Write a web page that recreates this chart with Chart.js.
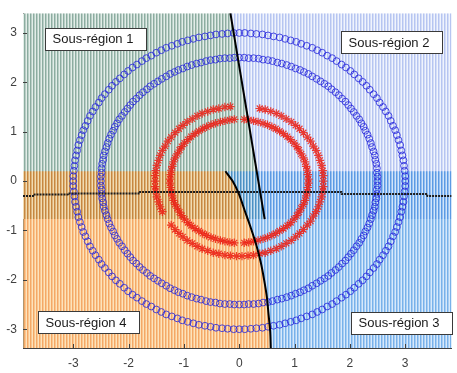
<!DOCTYPE html>
<html>
<head>
<meta charset="utf-8">
<script src="https://cdn.jsdelivr.net/npm/chart.js@4.4.1/dist/chart.umd.min.js"></script>
<style>
  html, body { margin: 0; padding: 0; background: #fff; }
  canvas { display: block; }
</style>
</head>
<body>
<canvas id="chart" width="457" height="373"></canvas>
<script>
// ---- axis limits and ticks ----
const xLimits = [-3.91, 3.84];
const yLimits = [-3.38, 3.40];
const xTickValues = [-3, -2, -1, 0, 1, 2, 3];
const yTickValues = [-3, -2, -1, 0, 1, 2, 3];

// ---- class "o": two rings of points (radius 3 and 2.5) ----
const blueOuterX = [3.00,3.00,2.99,2.98,2.97,2.95,2.93,2.91,2.88,2.85,2.82,2.78,2.74,2.70,2.65,2.60,2.54,2.49,2.43,2.36,2.30,2.23,2.16,2.08,2.01,1.93,1.85,1.76,1.68,1.59,1.50,1.41,1.32,1.22,1.12,1.03,0.93,0.83,0.73,0.62,0.52,0.42,0.31,0.21,0.10,
  0.00,-0.10,-0.21,-0.31,-0.42,-0.52,-0.62,-0.73,-0.83,-0.93,-1.03,-1.12,-1.22,-1.32,-1.41,-1.50,-1.59,-1.68,-1.76,-1.85,-1.93,-2.01,-2.08,-2.16,-2.23,-2.30,-2.36,-2.43,-2.49,-2.54,-2.60,-2.65,-2.70,-2.74,-2.78,-2.82,-2.85,-2.88,-2.91,-2.93,-2.95,-2.97,-2.98,-2.99,-3.00,
  -3.00,-3.00,-2.99,-2.98,-2.97,-2.95,-2.93,-2.91,-2.88,-2.85,-2.82,-2.78,-2.74,-2.70,-2.65,-2.60,-2.54,-2.49,-2.43,-2.36,-2.30,-2.23,-2.16,-2.08,-2.01,-1.93,-1.85,-1.76,-1.68,-1.59,-1.50,-1.41,-1.32,-1.22,-1.12,-1.03,-0.93,-0.83,-0.73,-0.62,-0.52,-0.42,-0.31,-0.21,-0.10,
  0.00,0.10,0.21,0.31,0.42,0.52,0.62,0.73,0.83,0.93,1.03,1.12,1.22,1.32,1.41,1.50,1.59,1.68,1.76,1.85,1.93,2.01,2.08,2.16,2.23,2.30,2.36,2.43,2.49,2.54,2.60,2.65,2.70,2.74,2.78,2.82,2.85,2.88,2.91,2.93,2.95,2.97,2.98,2.99,3.00];
const blueOuterY = [0.00,0.10,0.21,0.31,0.42,0.52,0.62,0.73,0.83,0.93,1.03,1.12,1.22,1.32,1.41,1.50,1.59,1.68,1.76,1.85,1.93,2.01,2.08,2.16,2.23,2.30,2.36,2.43,2.49,2.54,2.60,2.65,2.70,2.74,2.78,2.82,2.85,2.88,2.91,2.93,2.95,2.97,2.98,2.99,3.00,
  3.00,3.00,2.99,2.98,2.97,2.95,2.93,2.91,2.88,2.85,2.82,2.78,2.74,2.70,2.65,2.60,2.54,2.49,2.43,2.36,2.30,2.23,2.16,2.08,2.01,1.93,1.85,1.76,1.68,1.59,1.50,1.41,1.32,1.22,1.12,1.03,0.93,0.83,0.73,0.62,0.52,0.42,0.31,0.21,0.10,
  0.00,-0.10,-0.21,-0.31,-0.42,-0.52,-0.62,-0.73,-0.83,-0.93,-1.03,-1.12,-1.22,-1.32,-1.41,-1.50,-1.59,-1.68,-1.76,-1.85,-1.93,-2.01,-2.08,-2.16,-2.23,-2.30,-2.36,-2.43,-2.49,-2.54,-2.60,-2.65,-2.70,-2.74,-2.78,-2.82,-2.85,-2.88,-2.91,-2.93,-2.95,-2.97,-2.98,-2.99,-3.00,
  -3.00,-3.00,-2.99,-2.98,-2.97,-2.95,-2.93,-2.91,-2.88,-2.85,-2.82,-2.78,-2.74,-2.70,-2.65,-2.60,-2.54,-2.49,-2.43,-2.36,-2.30,-2.23,-2.16,-2.08,-2.01,-1.93,-1.85,-1.76,-1.68,-1.59,-1.50,-1.41,-1.32,-1.22,-1.12,-1.03,-0.93,-0.83,-0.73,-0.62,-0.52,-0.42,-0.31,-0.21,-0.10];
const blueInnerX = [2.50,2.50,2.49,2.49,2.48,2.46,2.45,2.43,2.40,2.38,2.35,2.32,2.28,2.25,2.21,2.17,2.12,2.07,2.02,1.97,1.92,1.86,1.80,1.74,1.67,1.61,1.54,1.47,1.40,1.32,1.25,1.17,1.10,1.02,0.94,0.86,0.77,0.69,0.60,0.52,0.43,0.35,0.26,0.17,0.09,
  0.00,-0.09,-0.17,-0.26,-0.35,-0.43,-0.52,-0.60,-0.69,-0.77,-0.86,-0.94,-1.02,-1.10,-1.17,-1.25,-1.32,-1.40,-1.47,-1.54,-1.61,-1.67,-1.74,-1.80,-1.86,-1.92,-1.97,-2.02,-2.07,-2.12,-2.17,-2.21,-2.25,-2.28,-2.32,-2.35,-2.38,-2.40,-2.43,-2.45,-2.46,-2.48,-2.49,-2.49,-2.50,
  -2.50,-2.50,-2.49,-2.49,-2.48,-2.46,-2.45,-2.43,-2.40,-2.38,-2.35,-2.32,-2.28,-2.25,-2.21,-2.17,-2.12,-2.07,-2.02,-1.97,-1.92,-1.86,-1.80,-1.74,-1.67,-1.61,-1.54,-1.47,-1.40,-1.32,-1.25,-1.17,-1.10,-1.02,-0.94,-0.86,-0.77,-0.69,-0.60,-0.52,-0.43,-0.35,-0.26,-0.17,-0.09,
  0.00,0.09,0.17,0.26,0.35,0.43,0.52,0.60,0.69,0.77,0.86,0.94,1.02,1.10,1.17,1.25,1.32,1.40,1.47,1.54,1.61,1.67,1.74,1.80,1.86,1.92,1.97,2.02,2.07,2.12,2.17,2.21,2.25,2.28,2.32,2.35,2.38,2.40,2.43,2.45,2.46,2.48,2.49,2.49,2.50];
const blueInnerY = [0.00,0.09,0.17,0.26,0.35,0.43,0.52,0.60,0.69,0.77,0.86,0.94,1.02,1.10,1.17,1.25,1.32,1.40,1.47,1.54,1.61,1.67,1.74,1.80,1.86,1.92,1.97,2.02,2.07,2.12,2.17,2.21,2.25,2.28,2.32,2.35,2.38,2.40,2.43,2.45,2.46,2.48,2.49,2.49,2.50,
  2.50,2.50,2.49,2.49,2.48,2.46,2.45,2.43,2.40,2.38,2.35,2.32,2.28,2.25,2.21,2.17,2.12,2.07,2.02,1.97,1.92,1.86,1.80,1.74,1.67,1.61,1.54,1.47,1.40,1.32,1.25,1.17,1.10,1.02,0.94,0.86,0.77,0.69,0.60,0.52,0.43,0.35,0.26,0.17,0.09,
  0.00,-0.09,-0.17,-0.26,-0.35,-0.43,-0.52,-0.60,-0.69,-0.77,-0.86,-0.94,-1.02,-1.10,-1.17,-1.25,-1.32,-1.40,-1.47,-1.54,-1.61,-1.67,-1.74,-1.80,-1.86,-1.92,-1.97,-2.02,-2.07,-2.12,-2.17,-2.21,-2.25,-2.28,-2.32,-2.35,-2.38,-2.40,-2.43,-2.45,-2.46,-2.48,-2.49,-2.49,-2.50,
  -2.50,-2.50,-2.49,-2.49,-2.48,-2.46,-2.45,-2.43,-2.40,-2.38,-2.35,-2.32,-2.28,-2.25,-2.21,-2.17,-2.12,-2.07,-2.02,-1.97,-1.92,-1.86,-1.80,-1.74,-1.67,-1.61,-1.54,-1.47,-1.40,-1.32,-1.25,-1.17,-1.10,-1.02,-0.94,-0.86,-0.77,-0.69,-0.60,-0.52,-0.43,-0.35,-0.26,-0.17,-0.09];

// ---- class "*": two inner rings (radius about 1.52 and 1.25) ----
const redOuterX = [1.52,1.52,1.51,1.49,1.46,1.43,1.39,1.34,1.29,1.23,1.16,1.09,1.02,0.94,0.85,0.76,0.67,0.57,0.47,0.37,
  -0.16,-0.26,-0.37,-0.47,-0.57,-0.67,-0.76,-0.85,-0.94,-1.02,-1.09,-1.16,-1.23,-1.29,-1.34,-1.39,-1.43,-1.46,-1.49,-1.51,-1.52,
  -1.52,
  -1.52,-1.51,-1.49,-1.46,-1.43,-1.39,-1.23,-1.16,-1.09,-1.02,-0.94,-0.85,-0.76,-0.67,-0.57,-0.47,-0.37,-0.26,-0.16,-0.05,
  0.05,0.16,0.26,0.37,0.47,0.57,0.67,0.76,0.85,0.94,1.02,1.09,1.16,1.23,1.29,1.34,1.39,1.43,1.46,1.49,1.51,1.52];
const redOuterY = [0.00,0.11,0.21,0.32,0.42,0.52,0.62,0.71,0.81,0.89,0.98,1.06,1.13,1.20,1.26,1.32,1.37,1.41,1.45,1.47,
  1.51,1.50,1.47,1.45,1.41,1.37,1.32,1.26,1.20,1.13,1.06,0.98,0.89,0.81,0.71,0.62,0.52,0.42,0.32,0.21,0.11,
  0.00,
  -0.11,-0.21,-0.32,-0.42,-0.52,-0.62,-0.89,-0.98,-1.06,-1.13,-1.20,-1.26,-1.32,-1.37,-1.41,-1.45,-1.47,-1.50,-1.51,-1.52,
  -1.52,-1.51,-1.50,-1.47,-1.45,-1.41,-1.37,-1.32,-1.26,-1.20,-1.13,-1.06,-0.98,-0.89,-0.81,-0.71,-0.62,-0.52,-0.42,-0.32,-0.21,-0.11];
const redInnerX = [1.25,1.24,1.23,1.21,1.19,1.16,1.12,1.08,1.04,0.99,0.93,0.87,0.80,0.73,0.66,0.59,0.51,0.43,0.34,0.26,0.17,0.09,
  -0.09,-0.17,-0.26,-0.34,-0.43,-0.51,-0.59,-0.66,-0.73,-0.80,-0.87,-0.93,-0.99,-1.04,-1.08,-1.12,-1.16,-1.19,-1.21,-1.23,-1.24,-1.25,
  -1.25,-1.24,-1.23,-1.21,-1.19,-1.16,-1.12,-1.08,-1.04,-0.99,-0.93,-0.87,-0.80,-0.73,-0.66,-0.59,-0.51,-0.43,-0.34,-0.26,-0.17,-0.09,
  0.09,0.17,0.26,0.34,0.43,0.51,0.59,0.66,0.73,0.80,0.87,0.93,0.99,1.04,1.08,1.12,1.16,1.19,1.21,1.23,1.24,1.25];
const redInnerY = [0.04,0.13,0.22,0.30,0.39,0.47,0.55,0.63,0.70,0.77,0.84,0.90,0.96,1.01,1.06,1.10,1.14,1.17,1.20,1.22,1.24,1.25,
  1.25,1.24,1.22,1.20,1.17,1.14,1.10,1.06,1.01,0.96,0.90,0.84,0.77,0.70,0.63,0.55,0.47,0.39,0.30,0.22,0.13,0.04,
  -0.04,-0.13,-0.22,-0.30,-0.39,-0.47,-0.55,-0.63,-0.70,-0.77,-0.84,-0.90,-0.96,-1.01,-1.06,-1.10,-1.14,-1.17,-1.20,-1.22,-1.24,-1.25,
  -1.25,-1.24,-1.22,-1.20,-1.17,-1.14,-1.10,-1.06,-1.01,-0.96,-0.90,-0.84,-0.77,-0.70,-0.63,-0.55,-0.47,-0.39,-0.30,-0.22,-0.13,-0.04];

// ---- decision boundaries ----
const splitLineX = [-0.16, 0.46];
const splitLineY = [3.40, -0.77];
const curveX = [-0.25, -0.12, -0.01, 0.10, 0.21, 0.31, 0.39, 0.45, 0.50, 0.53, 0.56, 0.57];
const curveY = [0.20, 0.00, -0.25, -0.60, -0.95, -1.30, -1.65, -2.00, -2.35, -2.70, -3.05, -3.38];
const stepX = [-3.91, -3.70, -3.70, -3.10, -3.10, -1.80, -1.80, 1.85, 1.85, 3.40, 3.40, 3.84];
const stepY = [-0.30, -0.30, -0.27, -0.27, -0.25, -0.25, -0.22, -0.22, -0.26, -0.26, -0.30, -0.30];
const upperBandBottom = -0.77;   // lower edge of the two upper sub-regions
const lowerBandTop = 0.20;       // upper edge of the two lower sub-regions

// ---- sub-region labels ----
const labelText = ['Sous-région 1', 'Sous-région 2', 'Sous-région 3', 'Sous-région 4'];
const labelX = [-3.52, 1.84, 2.02, -3.64];
const labelY = [2.88, 2.81, -2.87, -2.86];

const FONT = '"Liberation Sans", Arial, Helvetica, sans-serif';
Chart.defaults.font.family = FONT;

const zip = (xs, ys) => xs.map((v, i) => ({ x: v, y: ys[i] }));
const pt = (x, y) => ({ x, y });

const canvas = document.getElementById('chart');
const ctx = canvas.getContext('2d');

// vertical hatch made of three one-pixel columns
function hatch(dark, mid, light) {
  const tile = document.createElement('canvas');
  tile.width = 3; tile.height = 1;
  const g = tile.getContext('2d');
  g.fillStyle = dark; g.fillRect(0, 0, 1, 1);
  g.fillStyle = mid; g.fillRect(1, 0, 1, 1);
  g.fillStyle = light; g.fillRect(2, 0, 1, 1);
  return ctx.createPattern(tile, 'repeat');
}

const [xMin, xMax] = xLimits;
const [yMin, yMax] = yLimits;

const region1 = [pt(xMin, yMax), pt(splitLineX[0], splitLineY[0]), pt(splitLineX[1], splitLineY[1]), pt(xMin, upperBandBottom)];
const region2 = [pt(splitLineX[0], splitLineY[0]), pt(xMax, yMax), pt(xMax, upperBandBottom), pt(splitLineX[1], splitLineY[1])];
const curvePts = zip(curveX, curveY);
const region4 = [pt(xMin, lowerBandTop), ...curvePts, pt(xMin, yMin)];
const region3 = [...curvePts, pt(xMax, yMin), pt(xMax, lowerBandTop)];

function regionSet(points, pattern, order) {
  return {
    data: points, showLine: true, fill: 'shape', tension: 0,
    backgroundColor: pattern, borderColor: 'rgba(0,0,0,0)', borderWidth: 1,
    pointRadius: 0, order
  };
}

const overlay = {
  id: 'overlay',
  afterDatasetsDraw(chart) {
    const { ctx: c, chartArea: a, scales: { x, y } } = chart;
    c.save();
    // inward tick marks
    c.strokeStyle = '#404040';
    c.lineWidth = 1;
    c.beginPath();
    xTickValues.forEach(v => {
      const px = Math.round(x.getPixelForValue(v)) + 0.5;
      c.moveTo(px, a.bottom); c.lineTo(px, a.bottom - 4);
    });
    yTickValues.forEach(v => {
      const py = Math.round(y.getPixelForValue(v)) + 0.5;
      c.moveTo(a.left, py); c.lineTo(a.left + 4, py);
    });
    c.stroke();
    // boxed region labels
    c.font = '13px ' + FONT;
    c.textBaseline = 'middle';
    labelText.forEach((t, i) => {
      const left = Math.round(x.getPixelForValue(labelX[i])) + 0.5;
      const cy = y.getPixelForValue(labelY[i]);
      const w = Math.round(c.measureText(t).width + 20);
      const h = 22;
      const top = Math.round(cy - h / 2) + 0.5;
      c.fillStyle = '#ffffff';
      c.fillRect(left, top, w, h);
      c.strokeStyle = '#3a3a3a';
      c.strokeRect(left, top, w, h);
      c.fillStyle = '#1a1a1a';
      c.fillText(t, left + 7, cy + 1);
    });
    c.restore();
  }
};

new Chart(ctx, {
  type: 'scatter',
  data: {
    datasets: [
      // boundaries (top-most)
      { data: zip(splitLineX, splitLineY), showLine: true, borderColor: '#000', borderWidth: 2, pointRadius: 0, fill: false, order: 0 },
      { data: curvePts, showLine: true, borderColor: '#000', borderWidth: 2, pointRadius: 0, tension: 0.3, fill: false, order: 0 },
      { data: zip(stepX, stepY), showLine: true, borderColor: '#1c1c1c', borderWidth: 2, borderDash: [2, 1], pointRadius: 0, fill: false, order: 0 },
      // class markers
      { data: zip(redOuterX, redOuterY), pointStyle: 'star', pointRadius: 4.2, pointBorderWidth: 1.2,
        borderColor: 'rgba(235,30,20,0.85)', backgroundColor: 'rgba(235,30,20,0.85)', order: 1 },
      { data: zip(redInnerX, redInnerY), pointStyle: 'star', pointRadius: 4.2, pointBorderWidth: 1.2,
        borderColor: 'rgba(235,30,20,0.85)', backgroundColor: 'rgba(235,30,20,0.85)', order: 1 },
      { data: zip(blueOuterX, blueOuterY), pointStyle: 'circle', pointRadius: 3.4, pointBorderWidth: 1,
        borderColor: 'rgba(35,35,220,0.8)', backgroundColor: 'rgba(0,0,0,0)', order: 2 },
      { data: zip(blueInnerX, blueInnerY), pointStyle: 'circle', pointRadius: 3.4, pointBorderWidth: 1,
        borderColor: 'rgba(35,35,220,0.8)', backgroundColor: 'rgba(0,0,0,0)', order: 2 },
      // lower sub-regions, translucent over the upper ones
      regionSet(region3, hatch('rgba(30,125,220,0.6)', 'rgba(110,172,233,0.6)', 'rgba(188,218,248,0.6)'), 9),
      regionSet(region4, hatch('rgba(237,110,0,0.6)', 'rgba(245,160,70,0.6)', 'rgba(252,208,142,0.6)'), 9),
      // upper sub-regions
      regionSet(region1, hatch('rgb(140,172,160)', 'rgb(185,206,198)', 'rgb(226,237,232)'), 10),
      regionSet(region2, hatch('rgb(182,197,241)', 'rgb(212,221,247)', 'rgb(240,244,253)'), 10)
    ]
  },
  options: {
    responsive: false,
    animation: false,
    devicePixelRatio: 1,
    layout: { padding: { top: 8, right: 0, left: 0, bottom: 0 } },
    plugins: { legend: { display: false }, tooltip: { enabled: false } },
    elements: { line: { borderJoinStyle: 'round' } },
    scales: {
      x: {
        type: 'linear', min: xMin, max: xMax, z: 1,
        afterBuildTicks: s => { s.ticks = xTickValues.map(v => ({ value: v })); },
        afterFit: s => { s.height = 25; },
        grid: { drawOnChartArea: false, drawTicks: false },
        border: { display: true, color: '#404040', width: 1 },
        ticks: { color: '#404040', font: { size: 12 }, padding: 8 }
      },
      y: {
        type: 'linear', min: yMin, max: yMax, z: 1,
        afterBuildTicks: s => { s.ticks = yTickValues.map(v => ({ value: v })); },
        afterFit: s => { s.width = 23; },
        grid: { drawOnChartArea: false, drawTicks: false },
        border: { display: true, color: '#404040', width: 1 },
        ticks: { color: '#404040', font: { size: 12 }, padding: 6 }
      }
    }
  },
  plugins: [overlay]
});
</script>
</body>
</html>
